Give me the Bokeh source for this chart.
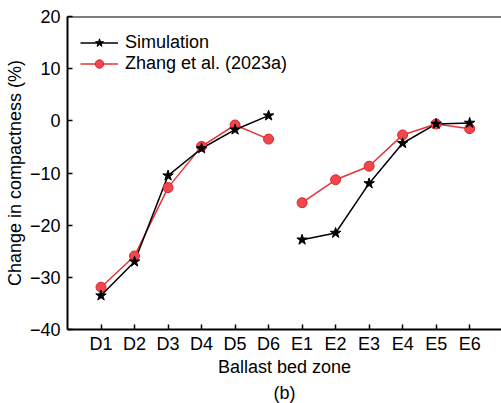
from bokeh.plotting import figure
from bokeh.models import FixedTicker, Span, Range1d, Legend, LegendItem, Title
from bokeh.embed import file_html
from bokeh.resources import INLINE

zones = ["D1", "D2", "D3", "D4", "D5", "D6", "E1", "E2", "E3", "E4", "E5", "E6"]
simulation = [-33.5, -27.0, -10.5, -5.3, -1.7, 1.0, -22.8, -21.5, -12.0, -4.3, -0.6, -0.4]
zhang = [-31.9, -25.9, -12.8, -4.9, -0.8, -3.5, -15.7, -11.3, -8.7, -2.7, -0.6, -1.5]
y_ticks = [-40, -30, -20, -10, 0, 10, 20]

xs = list(range(1, len(zones) + 1))
FONT = "Liberation Sans"
FS = "18px"

p = figure(width=501, height=403, output_backend="svg", toolbar_location=None,
           x_range=Range1d(0, 12.95), y_range=Range1d(-40, 20),
           min_border_left=67, min_border_top=16, min_border_right=0, min_border_bottom=74)
p.outline_line_color = None
p.grid.visible = False
p.background_fill_color = "white"
p.border_fill_color = "white"

# top frame line
p.add_layout(Span(location=20, dimension="width", line_color="black", line_width=2))

red = "#E8333A"
black = "black"

groups = [slice(0, 6), slice(6, 12)]
r_sim_line = None
r_zh_line = None
for g in groups:
    r_zh_line = p.line(xs[g], zhang[g], line_color=red, line_width=1.5)
    r_sim_line = p.line(xs[g], simulation[g], line_color=black, line_width=1.5)
r_zh_pts = p.scatter(xs, zhang, marker="circle", size=10, fill_color="#F0474D", line_color="#D8262C", line_width=1)
r_sim_pts = p.scatter(xs, simulation, marker="star", size=11, fill_color=black, line_color=black)

legend = Legend(items=[
    LegendItem(label="Simulation", renderers=[r_sim_line, r_sim_pts]),
    LegendItem(label="Zhang et al. (2023a)", renderers=[r_zh_line, r_zh_pts]),
], location=(13, 255))
legend.margin = 0
legend.padding = 0
legend.spacing = 0
legend.glyph_width = 38
legend.glyph_height = 21
legend.label_height = 21
legend.label_standoff = 7
legend.label_text_font = FONT
legend.label_text_font_size = FS
legend.label_text_color = "black"
legend.background_fill_alpha = 0
legend.border_line_color = None
p.add_layout(legend)

xa = p.xaxis[0]
xa.ticker = FixedTicker(ticks=xs)
xa.major_label_overrides = {x: z for x, z in zip(xs, zones)}
xa.axis_label = "Ballast bed zone"

ya = p.yaxis[0]
ya.ticker = FixedTicker(ticks=y_ticks)
ya.major_label_overrides = {t: (("\u2212" + str(-t)) if t < 0 else str(t)) for t in y_ticks}
ya.axis_label = "Change in compactness (%)"

for ax in (xa, ya):
    ax.axis_line_color = "black"
    ax.axis_line_width = 2
    ax.major_tick_in = 5
    ax.major_tick_out = 0
    ax.major_tick_line_width = 1.5
    ax.minor_tick_line_color = None
    ax.major_label_text_font = FONT
    ax.major_label_text_font_size = FS
    ax.major_label_text_color = "black"
    ax.axis_label_text_font = FONT
    ax.axis_label_text_font_size = FS
    ax.axis_label_text_font_style = "normal"
    ax.axis_label_text_color = "black"
xa.major_label_standoff = 4
xa.axis_label_standoff = 0
ya.major_label_standoff = 7
ya.axis_label_standoff = 2

# panel caption below the axis title
p.add_layout(Title(text="(b)", align="center", standoff=2, text_font=FONT, text_font_size=FS,
                   text_font_style="normal", text_color="black"), "below")

open("out.html", "w").write(file_html(p, INLINE))
